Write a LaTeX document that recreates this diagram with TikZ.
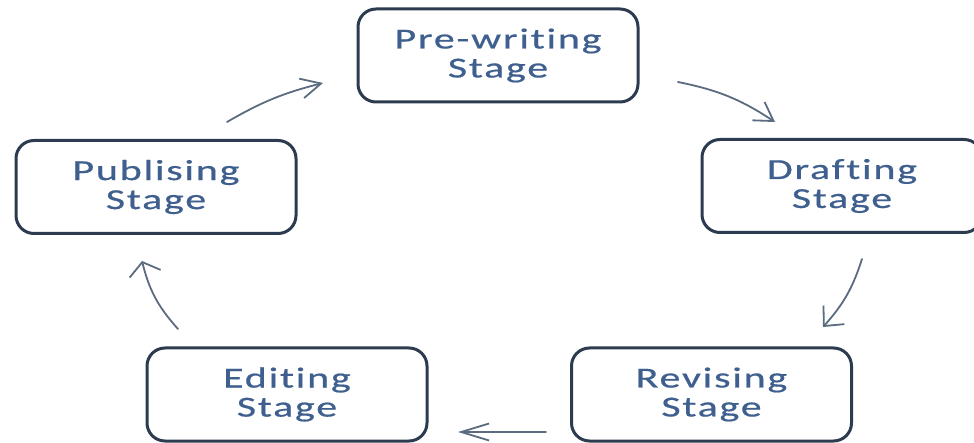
\documentclass[tikz,border=0pt]{standalone}
\usepackage{fontspec}
\setmainfont{Carlito}[FakeStretch=1.45,LetterSpace=6,Ligatures=NoCommon,FakeBold=0.6]
\usetikzlibrary{arrows.meta}
\definecolor{boxline}{RGB}{44,59,79}
\definecolor{stagetext}{RGB}{63,95,143}
\definecolor{arrowline}{RGB}{91,107,128}
\tikzset{
  stagebox/.style={draw=boxline, line width=3pt, rounded corners=18pt,
    minimum width=280pt, minimum height=93pt, inner sep=0pt,
    align=center, text=stagetext,
    font=\fontsize{29pt}{29pt}\selectfont},
  cycarrow/.style={draw=arrowline, line width=1.8pt, line cap=round},
}
\begin{document}
\begin{tikzpicture}[x=1pt,y=-1pt]
  \useasboundingbox (0,0) rectangle (974,443);
  % the five stages of the writing cycle
  \node[stagebox] (pre)   at (498,55.5)  {Pre-writing\\Stage};
  \node[stagebox] (draft) at (842,186)   {Drafting\\Stage};
  \node[stagebox] (rev)   at (711.5,394.5) {Revising\\Stage};
  \node[stagebox] (edit)  at (287,394.5) {Editing\\Stage};
  \node[stagebox] (pub)   at (156,187)   {Publising\\Stage};
  % end points of the arrows between the stages
  \coordinate (a1s) at (678,82);  \coordinate (a1e) at (775,122);
  \coordinate (a2s) at (862,259); \coordinate (a2e) at (823,327);
  \coordinate (a3s) at (546,432); \coordinate (a3e) at (458,432);
  \coordinate (a4s) at (178,329); \coordinate (a4e) at (142,261);
  \coordinate (a5s) at (227,122); \coordinate (a5e) at (323,83);
  % clockwise arrows
  \draw[cycarrow, -{Straight Barb[length=18pt,width=22pt]}] (a1s) to[bend left=11] (a1e);
  \draw[cycarrow, -{Straight Barb[length=15pt,width=28pt]}] (a2s) to[bend left=12] (a2e);
  \draw[cycarrow, -{Straight Barb[length=28pt,width=17pt]}] (a3s) -- (a3e);
  \draw[cycarrow, -{Straight Barb[length=12pt,width=32pt]}] (a4s) to[bend left=14] (a4e);
  \draw[cycarrow, -{Straight Barb[length=20pt,width=20pt]}] (a5s) to[bend left=8] (a5e);
\end{tikzpicture}
\end{document}
